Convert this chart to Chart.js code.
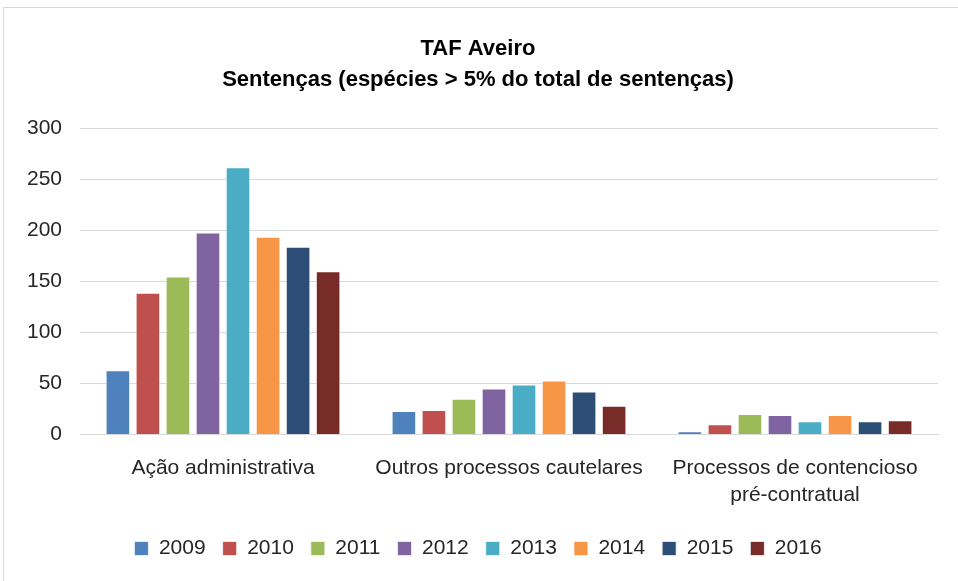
<!DOCTYPE html>
<html>
<head>
<meta charset="utf-8">
<script src="https://cdn.jsdelivr.net/npm/chart.js@4/dist/chart.umd.min.js"></script>
<style>
  html, body { margin: 0; padding: 0; background: #fff; }
  #wrap {
    position: absolute; left: 3px; top: 7px; width: 955px; height: 574px;
    border-top: 1px solid #d9d9d9; border-left: 1px solid #d9d9d9;
    box-sizing: border-box;
  }
  canvas { position: absolute; left: 0; top: 0; }
</style>
</head>
<body>
<div id="wrap"><canvas id="chart" width="954" height="573"></canvas></div>
<script>
// categories (x axis)
const categories = [
    'Ação administrativa',
    'Outros processos cautelares',
    ['Processos de contencioso', 'pré-contratual']
];

// one series per year
const years = ['2009', '2010', '2011', '2012', '2013', '2014', '2015', '2016'];
const values2009 = [63, 23, 3];
const values2010 = [139, 24, 10];
const values2011 = [155, 35, 20];
const values2012 = [198, 45, 19];
const values2013 = [262, 49, 13];
const values2014 = [194, 53, 19];
const values2015 = [184, 42, 13];
const values2016 = [160, 28, 14];
const seriesValues = [values2009, values2010, values2011, values2012,
                      values2013, values2014, values2015, values2016];

const colors = ['#4f81bd', '#c0504d', '#9bbb59', '#8064a2',
                '#4bacc6', '#f79646', '#2c4d75', '#772c2a'];

const yTicks = [0, 50, 100, 150, 200, 250, 300];

const FONT = "'Liberation Sans', Arial, sans-serif";

new Chart(document.getElementById('chart').getContext('2d'), {
    type: 'bar',
    data: {
        labels: categories,
        datasets: years.map(function (y, i) {
            return {
                label: y,
                data: seriesValues[i],
                backgroundColor: colors[i],
                borderColor: 'rgba(255,255,255,0.7)',
                borderWidth: 1,
                barPercentage: 0.82,
                categoryPercentage: 0.84
            };
        })
    },
    options: {
        responsive: false,
        animation: false,
        layout: { padding: { left: 14, right: 20, top: 6, bottom: 12 } },
        plugins: {
            title: {
                display: true,
                text: ['TAF Aveiro', 'Sentenças (espécies > 5% do total de sentenças)'],
                color: '#000',
                font: { family: FONT, size: 22, weight: 'bold', lineHeight: 1.4 },
                padding: { top: 20, bottom: 33 }
            },
            legend: {
                position: 'bottom',
                labels: {
                    color: '#262626',
                    font: { family: FONT, size: 21 },
                    boxWidth: 14,
                    boxHeight: 14,
                    padding: 17
                }
            },
            tooltip: { enabled: false }
        },
        scales: {
            x: {
                afterFit: function (scale) { scale.height -= 8; },
                grid: { display: false, drawTicks: false },
                border: { color: '#d9d9d9' },
                ticks: {
                    color: '#262626',
                    font: { family: FONT, size: 21, lineHeight: 1.3 },
                    padding: 20,
                    maxRotation: 0,
                    autoSkip: false
                }
            },
            y: {
                min: 0,
                max: 300,
                afterBuildTicks: function (scale) {
                    scale.ticks = yTicks.map(function (v) { return { value: v }; });
                },
                afterFit: function (scale) { scale.width = 62; },
                grid: { color: '#d9d9d9', drawTicks: false },
                border: { display: false },
                ticks: {
                    color: '#262626',
                    font: { family: FONT, size: 21 },
                    padding: 18
                }
            }
        }
    }
});
</script>
</body>
</html>
